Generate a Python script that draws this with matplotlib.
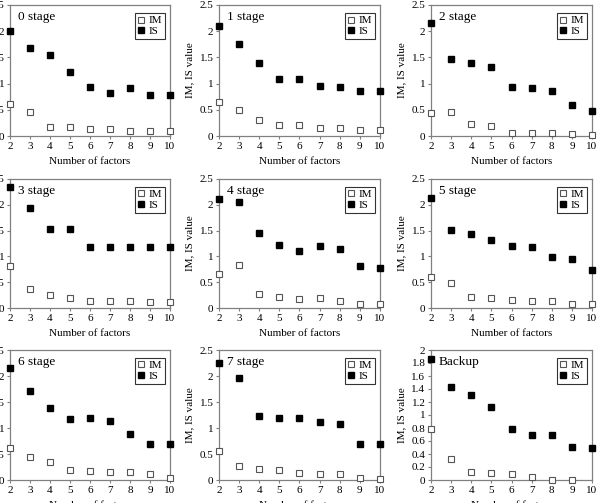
import numpy as np
import matplotlib
matplotlib.use("Agg")
import matplotlib.pyplot as plt
from matplotlib.ticker import FormatStrFormatter

plt.rcParams["font.family"] = ["Liberation Serif", "DejaVu Serif"]

factors = [2, 3, 4, 5, 6, 7, 8, 9, 10]
stages = ["0 stage", "1 stage", "2 stage", "3 stage", "4 stage",
          "5 stage", "6 stage", "7 stage", "Backup"]

im_0 = [0.62, 0.45, 0.18, 0.17, 0.13, 0.13, 0.10, 0.10, 0.10]
is_0 = [2.00, 1.67, 1.54, 1.23, 0.93, 0.83, 0.92, 0.78, 0.78]
im_1 = [0.65, 0.50, 0.30, 0.21, 0.21, 0.16, 0.15, 0.12, 0.12]
is_1 = [2.09, 1.75, 1.39, 1.08, 1.08, 0.95, 0.94, 0.85, 0.85]
im_2 = [0.43, 0.45, 0.22, 0.19, 0.06, 0.06, 0.06, 0.03, 0.01]
is_2 = [2.15, 1.46, 1.40, 1.31, 0.93, 0.91, 0.85, 0.59, 0.48]
im_3 = [0.81, 0.36, 0.25, 0.19, 0.14, 0.14, 0.13, 0.12, 0.12]
is_3 = [2.34, 1.94, 1.53, 1.53, 1.18, 1.18, 1.18, 1.18, 1.18]
im_4 = [0.65, 0.83, 0.28, 0.21, 0.18, 0.20, 0.14, 0.08, 0.08]
is_4 = [2.12, 2.06, 1.45, 1.22, 1.11, 1.21, 1.15, 0.81, 0.77]
im_5 = [0.60, 0.48, 0.21, 0.19, 0.15, 0.13, 0.13, 0.08, 0.08]
is_5 = [2.13, 1.51, 1.43, 1.31, 1.21, 1.18, 0.99, 0.95, 0.74]
im_6 = [0.61, 0.45, 0.35, 0.19, 0.17, 0.16, 0.16, 0.11, 0.03]
is_6 = [2.15, 1.72, 1.38, 1.17, 1.19, 1.13, 0.88, 0.69, 0.69]
im_7 = [0.55, 0.26, 0.22, 0.19, 0.13, 0.12, 0.12, 0.03, 0.02]
is_7 = [2.25, 1.97, 1.23, 1.20, 1.20, 1.12, 1.08, 0.70, 0.70]
im_b = [0.79, 0.32, 0.13, 0.11, 0.10, 0.05, 0.00, 0.00, np.nan]
is_b = [1.86, 1.43, 1.31, 1.12, 0.79, 0.70, 0.69, 0.51, 0.49]

im_all = [im_0, im_1, im_2, im_3, im_4, im_5, im_6, im_7, im_b]
is_all = [is_0, is_1, is_2, is_3, is_4, is_5, is_6, is_7, is_b]

W, H = 597, 503
# axes boxes in pixels: (left, top, right, bottom)
col_x = [(10, 170), (219, 380), (431, 592)]
row_y = [(5, 136), (179, 308), (350, 480)]

fig = plt.figure(figsize=(W / 100, H / 100), dpi=100)

GRAY = "#808080"
for i, name in enumerate(stages):
    r, c = divmod(i, 3)
    x0, x1 = col_x[c]
    y0, y1 = row_y[r]
    ax = fig.add_axes([x0 / W, 1 - y1 / H, (x1 - x0) / W, (y1 - y0) / H])

    ax.plot(factors, im_all[i], ls="none", marker="s", ms=3.8, mfc="white",
            mec="#555555", mew=0.8, clip_on=False, label="IM", zorder=3)
    ax.plot(factors, is_all[i], ls="none", marker="s", ms=4.2, mfc="black",
            mec="black", clip_on=False, label="IS", zorder=3)

    ax.set_xlim(2, 10)
    ax.set_xticks(factors)
    if name == "Backup":
        ax.set_ylim(0, 2)
        ax.set_yticks(np.arange(0, 2.01, 0.2))
    else:
        ax.set_ylim(0, 2.5)
        ax.set_yticks(np.arange(0, 2.51, 0.5))
    ax.yaxis.set_major_formatter(FormatStrFormatter("%g"))

    for sp in ax.spines.values():
        sp.set_color(GRAY)
        sp.set_linewidth(0.9)
    ax.tick_params(direction="out", length=2.5, width=0.8, color=GRAY,
                   labelsize=8, pad=1.5)

    ax.set_xlabel("Number of factors", fontsize=8, labelpad=5)
    ax.set_ylabel("IM, IS value", fontsize=8, labelpad=4)

    ax.text(0.05, 0.91, name, transform=ax.transAxes, fontsize=9.5,
            ha="left", va="center")
    leg = ax.legend(loc="upper right", bbox_to_anchor=(0.97, 0.94),
                    fontsize=8, frameon=True, fancybox=False, borderpad=0.25,
                    labelspacing=0.1, handlelength=0.6, handletextpad=0.4,
                    borderaxespad=0)
    leg.get_frame().set_edgecolor("black")
    leg.get_frame().set_linewidth(0.8)

fig.savefig("out.png", dpi=100)
